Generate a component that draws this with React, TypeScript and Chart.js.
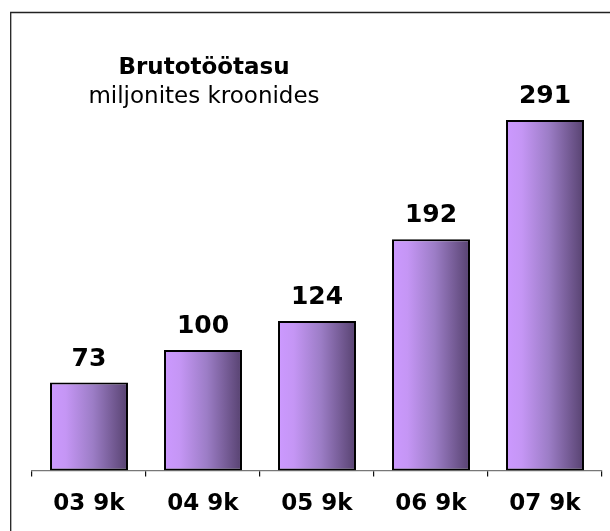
import React, { useEffect, useRef } from "react";
import { Chart, registerables } from "chart.js";

Chart.register(...registerables);

const categories = ["03 9k", "04 9k", "05 9k", "06 9k", "07 9k"];
const values = [73, 100, 124, 192, 291];
const titleMain = "Brutotöötasu";
const titleSub = "miljonites kroonides";

const FONT = "'DejaVu Sans', Verdana, sans-serif";
const BAR_FRACTION = 0.684;

const decorPlugin = {
  id: "decor",
  beforeDraw(chart: any) {
    const ctx = chart.ctx;
    ctx.save();
    ctx.strokeStyle = "#222";
    ctx.lineWidth = 1.3;
    ctx.beginPath();
    ctx.moveTo(10.7, 531);
    ctx.lineTo(10.7, 12.5);
    ctx.lineTo(610, 12.5);
    ctx.stroke();
    ctx.restore();
  },
  beforeDatasetsDraw(chart: any) {
    const ctx = chart.ctx;
    const meta = chart.getDatasetMeta(0);
    meta.data.forEach((el: any) => {
      const w = el.width;
      const x0 = el.x - w / 2;
      const x1 = el.x + w / 2;
      if (!Number.isFinite(x0) || !Number.isFinite(x1)) return;
      const g = ctx.createLinearGradient(x0, 0, x1, 0);
      g.addColorStop(0, "#cc99ff");
      g.addColorStop(0.2, "#c596f5");
      g.addColorStop(0.55, "#9c7dc6");
      g.addColorStop(1, "#574270");
      el.options = Object.assign({}, el.options, { backgroundColor: g });
    });
  },
  afterDatasetsDraw(chart: any) {
    const ctx = chart.ctx;
    ctx.save();
    ctx.fillStyle = "#000";
    ctx.textAlign = "center";
    ctx.textBaseline = "alphabetic";
    ctx.font = `bold 23px ${FONT}`;
    ctx.fillText(titleMain, 204, 74);
    ctx.font = `23px ${FONT}`;
    ctx.fillText(titleSub, 204, 103);
    const meta = chart.getDatasetMeta(0);
    ctx.font = `bold 25px ${FONT}`;
    meta.data.forEach((el: any, i: number) => {
      ctx.fillText(String(values[i]), el.x, el.y - 17);
    });
    ctx.restore();
  },
};

export default function App() {
  const ref = useRef<HTMLCanvasElement | null>(null);
  useEffect(() => {
    document.body.style.margin = "0";
    document.body.style.overflow = "hidden";
    const canvas = ref.current!;
    const chart = new Chart(canvas, {
      type: "bar",
      data: {
        labels: categories,
        datasets: [
          {
            data: values,
            backgroundColor: () => "#a482d0",
            borderColor: "#000",
            borderWidth: 2,
            borderSkipped: false,
            barPercentage: BAR_FRACTION,
            categoryPercentage: 1,
          },
        ],
      },
      options: {
        responsive: false,
        animation: false,
        layout: { padding: { left: 32, right: 8, top: 49, bottom: -1 } },
        plugins: {
          legend: { display: false },
          tooltip: { enabled: false },
          title: { display: false },
        },
        scales: {
          x: {
            offset: true,
            grid: {
              display: true,
              drawOnChartArea: false,
              drawTicks: true,
              tickLength: 6,
              color: "#111",
              lineWidth: 1.2,
              offset: true,
            },
            border: { display: true, color: "#777", width: 1.2 },
            ticks: {
              color: "#000",
              padding: 14,
              font: { family: FONT, size: 23, weight: "bold" },
            },
          },
          y: {
            display: false,
            min: 0,
            max: 350,
          },
        },
      },
      plugins: [decorPlugin],
    });
    return () => chart.destroy();
  }, []);
  return (
    <div style={{ width: 610, height: 531, background: "#fff" }}>
      <canvas ref={ref} width={610} height={531} style={{ display: "block" }} />
    </div>
  );
}
